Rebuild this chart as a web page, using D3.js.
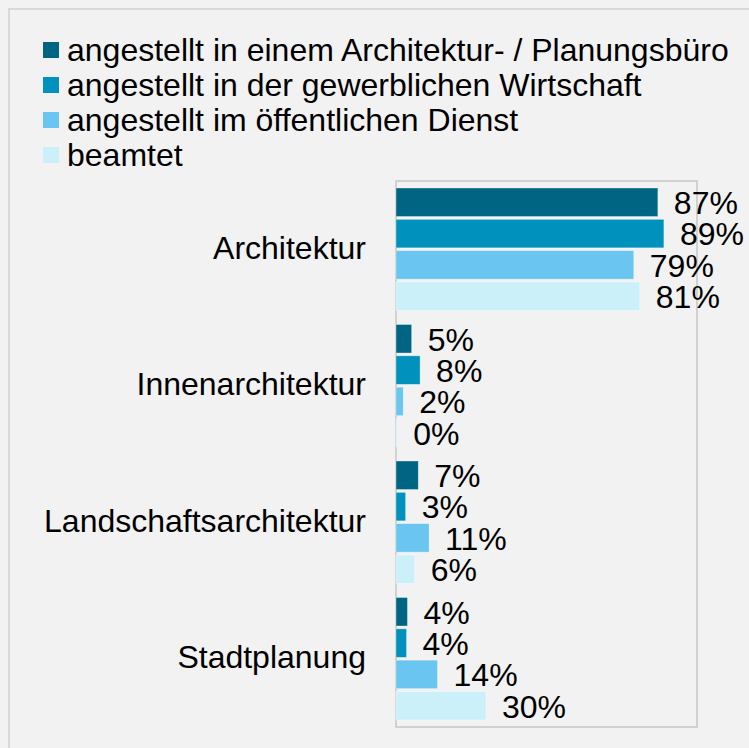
<!DOCTYPE html>
<html lang="de">
<head>
  <meta charset="UTF-8" />
  <title>Beschäftigung nach Fachrichtung</title>
  <script src="https://cdn.jsdelivr.net/npm/d3@7"></script>
  <style>
    html, body {
      margin: 0;
      padding: 0;
      background-color: #f2f2f2;
    }

    svg {
      display: block;
      font-family: "Liberation Sans", Arial, sans-serif;
    }
  </style>
</head>
<body>
  <div id="chart"></div>

  <script>
    const categories = ["Architektur", "Innenarchitektur", "Landschaftsarchitektur", "Stadtplanung"];
    const seriesNames = [
      "angestellt in einem Architektur- / Planungsbüro",
      "angestellt in der gewerblichen Wirtschaft",
      "angestellt im öffentlichen Dienst",
      "beamtet"
    ];
    const colors = ["#006582", "#0091bc", "#6ac5f0", "#ccf0fa"];

    // one array per series, same order as categories
    const bueroValues = [87, 5.2, 7.4, 3.8];
    const wirtschaftValues = [89, 8, 3.2, 3.5];
    const dienstValues = [79, 2.4, 11, 13.8];
    const beamtetValues = [81, 0.4, 6.2, 29.9];
    const seriesValues = [bueroValues, wirtschaftValues, dienstValues, beamtetValues];

    const width = 749;
    const height = 748;
    const plot = { left: 396, right: 697, top: 181, bottom: 727 };
    const fontSize = 32;

    const svg = d3.select("#chart")
      .append("svg")
      .attr("width", width)
      .attr("height", height);

    // outer frame
    svg.append("rect")
      .attr("x", 9)
      .attr("y", 9)
      .attr("width", width + 20)
      .attr("height", height + 20)
      .attr("fill", "#f2f2f2")
      .attr("stroke", "#d9d9d9")
      .attr("stroke-width", 2);

    const xScale = d3.scaleLinear()
      .domain([0, 100])
      .range([plot.left, plot.right]);

    const yGroup = d3.scaleBand()
      .domain(categories)
      .range([plot.top, plot.bottom]);

    const ySeries = d3.scaleBand()
      .domain(d3.range(seriesNames.length))
      .range([7, yGroup.bandwidth() - 7])
      .paddingInner(0.09);

    // plot frame
    svg.append("rect")
      .attr("x", plot.left)
      .attr("y", plot.top)
      .attr("width", plot.right - plot.left)
      .attr("height", plot.bottom - plot.top)
      .attr("fill", "none")
      .attr("stroke", "#c6c6c6")
      .attr("stroke-width", 1.5);

    const rows = [];
    categories.forEach((c, ci) => {
      seriesValues.forEach((vals, si) => {
        rows.push({ category: c, series: si, value: vals[ci] });
      });
    });

    svg.selectAll(".bar")
      .data(rows)
      .enter()
      .append("rect")
      .attr("class", "bar")
      .attr("x", xScale(0))
      .attr("y", d => yGroup(d.category) + ySeries(d.series))
      .attr("width", d => xScale(d.value) - xScale(0))
      .attr("height", ySeries.bandwidth())
      .attr("fill", d => colors[d.series])
      .attr("stroke", "rgba(255,255,255,0.45)")
      .attr("stroke-width", 0.75);

    svg.selectAll(".value")
      .data(rows)
      .enter()
      .append("text")
      .attr("class", "value")
      .attr("x", d => xScale(d.value) + 16)
      .attr("y", d => yGroup(d.category) + ySeries(d.series) + ySeries.bandwidth() / 2)
      .attr("dy", "0.37em")
      .attr("font-size", fontSize)
      .attr("fill", "#000")
      .text(d => Math.round(d.value) + "%");

    // category labels
    svg.selectAll(".cat")
      .data(categories)
      .enter()
      .append("text")
      .attr("class", "cat")
      .attr("x", plot.left - 30)
      .attr("y", d => yGroup(d) + yGroup.bandwidth() / 2)
      .attr("dy", "0.3em")
      .attr("text-anchor", "end")
      .attr("font-size", fontSize)
      .attr("fill", "#000")
      .text(d => d);

    // Legend
    const legend = svg.append("g")
      .attr("transform", "translate(43, 42)");

    const item = legend.selectAll("g")
      .data(seriesNames)
      .enter()
      .append("g")
      .attr("transform", (d, i) => `translate(0, ${i * 35})`);

    item.append("rect")
      .attr("width", 16)
      .attr("height", 16)
      .attr("fill", (d, i) => colors[i]);

    item.append("text")
      .attr("x", 24)
      .attr("y", 19)
      .attr("font-size", fontSize)
      .attr("fill", "#000")
      .text(d => d);
  </script>
</body>
</html>
